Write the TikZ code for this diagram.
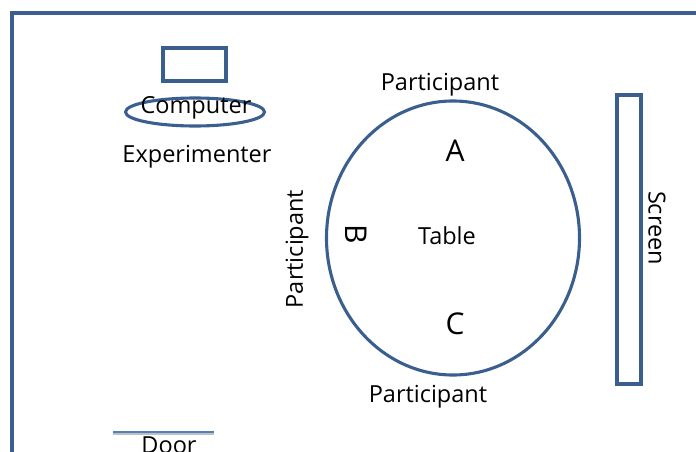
\documentclass[tikz,border=0pt]{standalone}
\usepackage{fontspec}
\setmainfont{Open Sans}
\usetikzlibrary{shapes.geometric}
\definecolor{edge}{HTML}{3A5F8E}
\definecolor{doorc}{HTML}{4F81BD}
\begin{document}
\begin{tikzpicture}[x=1pt,y=-1pt,
  shape line/.style={draw=edge,line width=3.1pt},
  lbl/.style={font=\fontsize{23.5}{27}\selectfont,inner sep=0pt},
  big/.style={font=\fontsize{30}{34}\selectfont,inner sep=0pt}]
\useasboundingbox (0,0) rectangle (696,452);
\draw[shape line] (12,460) -- (12,13) -- (710,13);
\node[shape line,rectangle,minimum width=63pt,minimum height=33pt,inner sep=0pt] (monitor) at (194.5,64.5) {};
\node[shape line,ellipse,minimum width=139pt,minimum height=28pt,inner sep=0pt] (desk) at (195,112) {};
\node[lbl] (computer) at (196,108) {Computer};
\node[lbl] (experimenter) at (197,157) {Experimenter};
\node[shape line,ellipse,minimum width=253pt,minimum height=274pt,inner sep=0pt] (table) at (453,238) {};
\node[lbl] (tablelbl) at (447,236) {Table};
\node[lbl] (ptop) at (440,85) {Participant};
\node[lbl,rotate=90] (pleft) at (297,249) {Participant};
\node[lbl] (pbottom) at (428,397) {Participant};
\node[big] (a) at (455,151) {A};
\node[big,rotate=-90] (b) at (356,234) {B};
\node[big] (c) at (455,324) {C};
\node[shape line,rectangle,minimum width=24pt,minimum height=289pt,inner sep=0pt] (screen) at (629,239.5) {};
\node[lbl,rotate=-90] (screenlbl) at (657,228) {Screen};
\coordinate (d1) at (113,432);
\coordinate (d2) at (214,432);
\draw[black!25,line width=2.8pt] ([yshift=-1.5pt]d1) -- ([yshift=-1.5pt]d2);
\draw[doorc,line width=2.8pt] (d1) -- (d2);
\node[lbl] (door) at (169,445) {Door};
\end{tikzpicture}
\end{document}
